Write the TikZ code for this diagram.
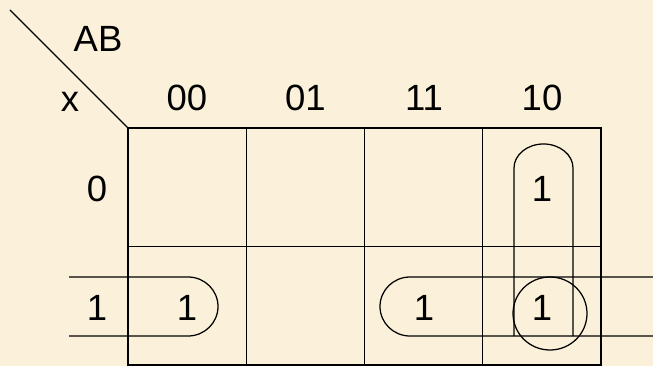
\documentclass[tikz,border=0pt]{standalone}
\usepackage{fontspec}
\setmainfont{Liberation Sans}
\definecolor{bgbeige}{RGB}{251,241,218}
\begin{document}
\begin{tikzpicture}[x=1pt,y=-1pt,
  lbl/.style={font=\fontsize{36.5}{40}\selectfont, anchor=base, inner sep=0pt},
  gridline/.style={line width=1.4pt, draw=black},
  looplines/.style={line width=1.25pt, draw=black}]
\fill[bgbeige] (0,0) rectangle (653,366);
\useasboundingbox (0,0) rectangle (653,366);
% grid
\draw[gridline] (128,128) rectangle (601,365);
\foreach \xx in {246.25,364.5,482.75} \draw[gridline] (\xx,128) -- (\xx,365);
\draw[gridline] (128,246.5) -- (601,246.5);
% diagonal
\coordinate (d0) at (10,10);
\coordinate (d1) at (128,128);
\draw[line width=1.2pt] (d0) -- (d1);
% labels
\node[lbl] (ab) at (98,52) {AB};
\node[lbl] (xv) at (70,112) {x};
\node[lbl] (c00) at (187,111) {00};
\node[lbl] (c01) at (305.5,111) {01};
\node[lbl] (c11) at (424,111) {11};
\node[lbl] (c10) at (542,111) {10};
\node[lbl] (r0) at (97,201) {0};
\node[lbl] (r1) at (97,320) {1};
\node[lbl] (m10) at (542,201) {1};
\node[lbl] (m11a) at (187,320) {1};
\node[lbl] (m11b) at (424,320) {1};
\node[lbl] (m11c) at (542,320) {1};
% loops
\draw[looplines] (69,277) -- (188,277) arc[start angle=-90, end angle=90, x radius=30, y radius=29.5] -- (69,336);
\draw[looplines] (653,277) -- (410,277) arc[start angle=-90, end angle=-270, x radius=30, y radius=29.5] -- (653,336);
\draw[looplines] (514,336) -- (514,168) arc[start angle=180, end angle=360, x radius=29.5, y radius=24] -- (573,336);
\draw[looplines] (550,313.5) ellipse[x radius=37, y radius=36.5];
\end{tikzpicture}
\end{document}
